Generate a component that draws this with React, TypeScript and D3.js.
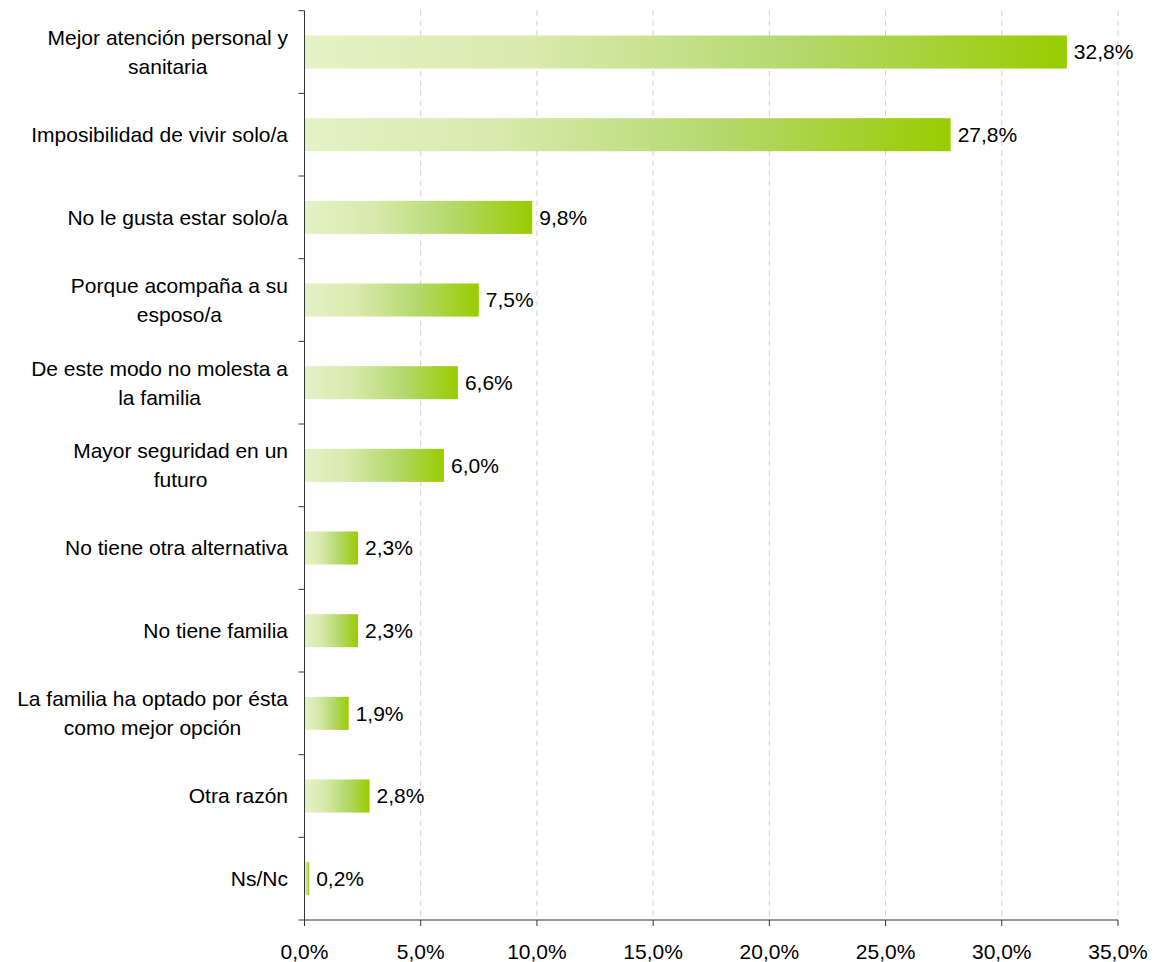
import React, { useRef, useEffect } from 'react';
import * as d3 from 'd3';

const categories = [
  ['Mejor atención personal y', 'sanitaria'],
  ['Imposibilidad de vivir solo/a'],
  ['No le gusta estar solo/a'],
  ['Porque acompaña a su', 'esposo/a'],
  ['De este modo no molesta a', 'la familia'],
  ['Mayor seguridad en un', 'futuro'],
  ['No tiene otra alternativa'],
  ['No tiene familia'],
  ['La familia ha optado por ésta', 'como mejor opción'],
  ['Otra razón'],
  ['Ns/Nc'],
];
const values = [32.8, 27.8, 9.8, 7.5, 6.6, 6.0, 2.3, 2.3, 1.9, 2.8, 0.2];
const xTicks = [0, 5, 10, 15, 20, 25, 30, 35];

const fmt = (v: number) => v.toFixed(1).replace('.', ',') + '%';

const App: React.FC = () => {
  const svgRef = useRef<SVGSVGElement | null>(null);
  useEffect(() => {
    if (!svgRef.current) return;
    const svg = d3.select(svgRef.current);
    svg.selectAll('*').remove();
    const [w, h] = [1156, 962];
    const margin = { top: 10.7, right: 38, bottom: 42, left: 304.5 };
    const font = '"Liberation Sans", Arial, sans-serif';
    const fs = 21;

    const x = d3.scaleLinear().domain([0, 35]).range([margin.left, w - margin.right]);
    const y = d3.scaleBand<number>().domain(d3.range(categories.length))
      .range([margin.top, h - margin.bottom]).paddingInner(0.6).paddingOuter(0.3);
    const step = y.step();

    const grad = svg.append('defs').append('linearGradient').attr('id', 'barGrad')
      .attr('x1', 0).attr('x2', 1).attr('y1', 0).attr('y2', 0);
    [[0, '#e4f2c6'], [0.3, '#d8eaad'], [0.65, '#b4d86c'], [1, '#99cc00']].forEach(([o, c]) =>
      grad.append('stop').attr('offset', o as number).attr('stop-color', c as string));

    // gridlines
    svg.append('g').selectAll('line').data(xTicks.filter(t => t > 0)).join('line')
      .attr('x1', d => x(d)).attr('x2', d => x(d))
      .attr('y1', margin.top).attr('y2', h - margin.bottom)
      .attr('stroke', '#cccccc').attr('stroke-width', 1).attr('stroke-dasharray', '5,5');

    // bars
    svg.append('g').selectAll('rect').data(values).join('rect')
      .attr('x', x(0)).attr('y', (_, i) => y(i)!)
      .attr('width', d => x(d) - x(0)).attr('height', y.bandwidth())
      .attr('fill', 'url(#barGrad)');

    // value labels
    svg.append('g').selectAll('text').data(values).join('text')
      .attr('x', d => x(d) + 7).attr('y', (_, i) => y(i)! + y.bandwidth() / 2)
      .attr('dy', '0.35em').attr('font-family', font).attr('font-size', fs).attr('fill', '#000')
      .text(d => fmt(d));

    // axes
    const axisColor = '#333';
    const bottom = h - margin.bottom;
    svg.append('line').attr('x1', x(0)).attr('x2', x(0)).attr('y1', margin.top).attr('y2', bottom)
      .attr('stroke', axisColor);
    svg.append('line').attr('x1', x(0)).attr('x2', x(35)).attr('y1', bottom).attr('y2', bottom)
      .attr('stroke', axisColor);
    svg.append('g').selectAll('line').data(d3.range(categories.length + 1)).join('line')
      .attr('x1', x(0) - 6).attr('x2', x(0))
      .attr('y1', i => margin.top + i * step).attr('y2', i => margin.top + i * step)
      .attr('stroke', axisColor);
    svg.append('g').selectAll('line').data(xTicks).join('line')
      .attr('x1', d => x(d)).attr('x2', d => x(d)).attr('y1', bottom).attr('y2', bottom + 6)
      .attr('stroke', axisColor);
    svg.append('g').selectAll('text').data(xTicks).join('text')
      .attr('x', d => x(d)).attr('y', 959).attr('text-anchor', 'middle')
      .attr('font-family', font).attr('font-size', fs).attr('fill', '#000')
      .text(d => fmt(d));

    // category labels, lines centered on each other, block right-aligned
    const right = 288;
    const lh = 29;
    categories.forEach((lines, i) => {
      const cy = y(i)! + y.bandwidth() / 2;
      const g = svg.append('g');
      const texts = lines.map((l, j) => g.append('text')
        .attr('y', cy + (j - (lines.length - 1) / 2) * lh).attr('dy', '0.35em')
        .attr('font-family', font).attr('font-size', fs).attr('fill', '#000')
        .attr('text-anchor', 'middle').text(l));
      const maxW = d3.max(texts, t => (t.node() as SVGTextElement).getComputedTextLength()) || 0;
      texts.forEach(t => t.attr('x', right - maxW / 2));
    });
  }, []);
  return (
    <svg ref={svgRef} width={1156} height={962} viewBox="0 0 1156 962"
      style={{ position: 'absolute', left: 0, top: 0, background: '#fff' }} />
  );
};
export default App;
